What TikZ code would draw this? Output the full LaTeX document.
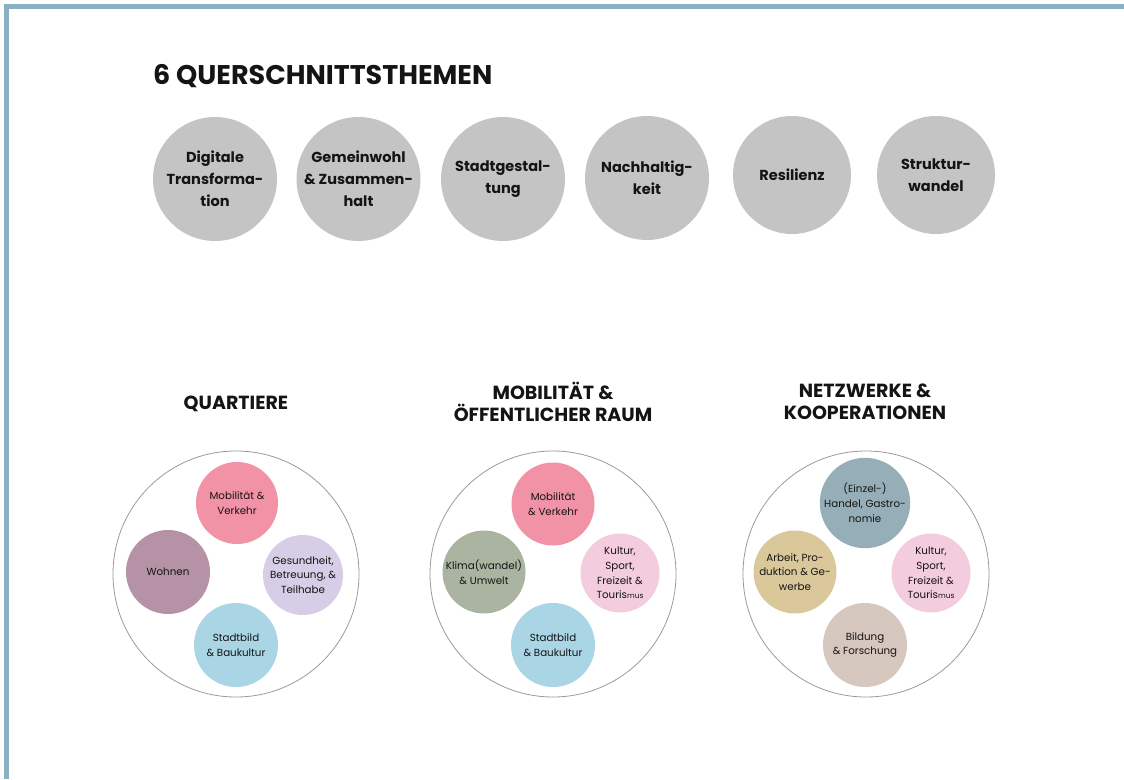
\documentclass[tikz,border=0pt]{standalone}
\usepackage{fontspec}
\setmainfont{Poppins}
\begin{document}
\definecolor{frame}{HTML}{8AB0C2}
\definecolor{ink}{HTML}{141414}
\definecolor{topic}{HTML}{C4C4C4}
\definecolor{ring}{HTML}{9A9A9A}
\definecolor{cMob}{HTML}{F292A6}
\definecolor{cWohn}{HTML}{B592A6}
\definecolor{cGes}{HTML}{D5CEE6}
\definecolor{cStadt}{HTML}{A9D5E4}
\definecolor{cKlima}{HTML}{AAB4A1}
\definecolor{cKult}{HTML}{F3CDDD}
\definecolor{cHand}{HTML}{95AEB8}
\definecolor{cArb}{HTML}{DAC89B}
\definecolor{cBild}{HTML}{D6C7BF}
\begin{tikzpicture}[x=1pt,y=-1pt,
  topicnode/.style={circle,fill=topic,inner sep=0pt,align=center,text=ink,
    font=\fontsize{14.5}{22}\selectfont\bfseries},
  ringnode/.style={circle,draw=ring,line width=0.8pt,minimum size=246pt,inner sep=0pt},
  themenode/.style={circle,inner sep=0pt,minimum size=82pt,align=center,text=ink,
    font=\fontsize{10.3}{14.8}\selectfont},
  headnode/.style={align=center,text=ink,font=\fontsize{19}{22}\selectfont\bfseries}]
\useasboundingbox (0,0) rectangle (1124,779);
% frame
\draw[frame,line width=5pt] (6.5,779) -- (6.5,6.5) -- (1124,6.5);

% title
\node[anchor=west,inner sep=0pt,text=ink,font=\fontsize{27}{32}\selectfont\bfseries] (title) at (153,76) {6 QUERSCHNITTSTHEMEN};

% cross-cutting topics
\node[topicnode,minimum size=124pt] (t1) at (215,179) {Digitale\\Transforma-\\tion};
\node[topicnode,minimum size=124pt] (t2) at (358.5,179) {Gemeinwohl\\\& Zusammen-\\halt};
\node[topicnode,minimum size=124pt] (t3) at (503,179) {Stadtgestal-\\tung};
\node[topicnode,minimum size=124pt] (t4) at (647,178) {Nachhaltig-\\keit};
\node[topicnode,minimum size=118pt] (t5) at (792,175) {Resilienz};
\node[topicnode,minimum size=118pt] (t6) at (936,175) {Struktur-\\wandel};

% fields of action headings
\node[headnode] (h1) at (236,404) {QUARTIERE};
\node[headnode] (h2) at (553,402) {MOBILITÄT \&\\ÖFFENTLICHER RAUM};
\node[headnode] (h3) at (865,402) {NETZWERKE \&\\KOOPERATIONEN};

% outer rings
\node[ringnode] (r1) at (236,574) {};
\node[ringnode] (r2) at (553,574) {};
\node[ringnode] (r3) at (866,574) {};

% Quartiere
\node[themenode,fill=cMob] (q1) at (237,503) {Mobilität \&\\Verkehr};
\node[themenode,fill=cWohn,minimum size=84pt] (q2) at (168,572) {Wohnen};
\node[themenode,fill=cGes,minimum size=80pt] (q3) at (303,575) {Gesundheit,\\Betreuung, \&\\Teilhabe};
\node[themenode,fill=cStadt,minimum size=84pt] (q4) at (236,645) {Stadtbild\\\& Baukultur};

% Mobilitaet & oeffentlicher Raum
\node[themenode,fill=cMob,minimum size=83pt] (m1) at (553,504) {Mobilität\\\& Verkehr};
\node[themenode,fill=cKlima,minimum size=83pt] (m2) at (484,572) {Klima(wandel)\\\& Umwelt};
\node[themenode,fill=cKult,minimum size=79pt] (m3) at (620,573) {Kultur,\\Sport,\\Freizeit \&\\Touris{\fontsize{7.5}{14.8}\selectfont mus}};
\node[themenode,fill=cStadt,minimum size=84pt] (m4) at (553,645) {Stadtbild\\\& Baukultur};

% Netzwerke & Kooperationen
\node[themenode,fill=cHand,minimum size=83pt] (n1) at (865,503) {(Einzel-)\\Handel, Gastro-\\nomie};
\node[themenode,fill=cArb,minimum size=83pt] (n2) at (795,572) {Arbeit, Pro-\\duktion \& Ge-\\werbe};
\node[themenode,fill=cKult,minimum size=79pt] (n3) at (931,573) {Kultur,\\Sport,\\Freizeit \&\\Touris{\fontsize{7.5}{14.8}\selectfont mus}};
\node[themenode,fill=cBild,minimum size=84pt] (n4) at (865,645) {Bildung\\\& Forschung};
\end{tikzpicture}
\end{document}
